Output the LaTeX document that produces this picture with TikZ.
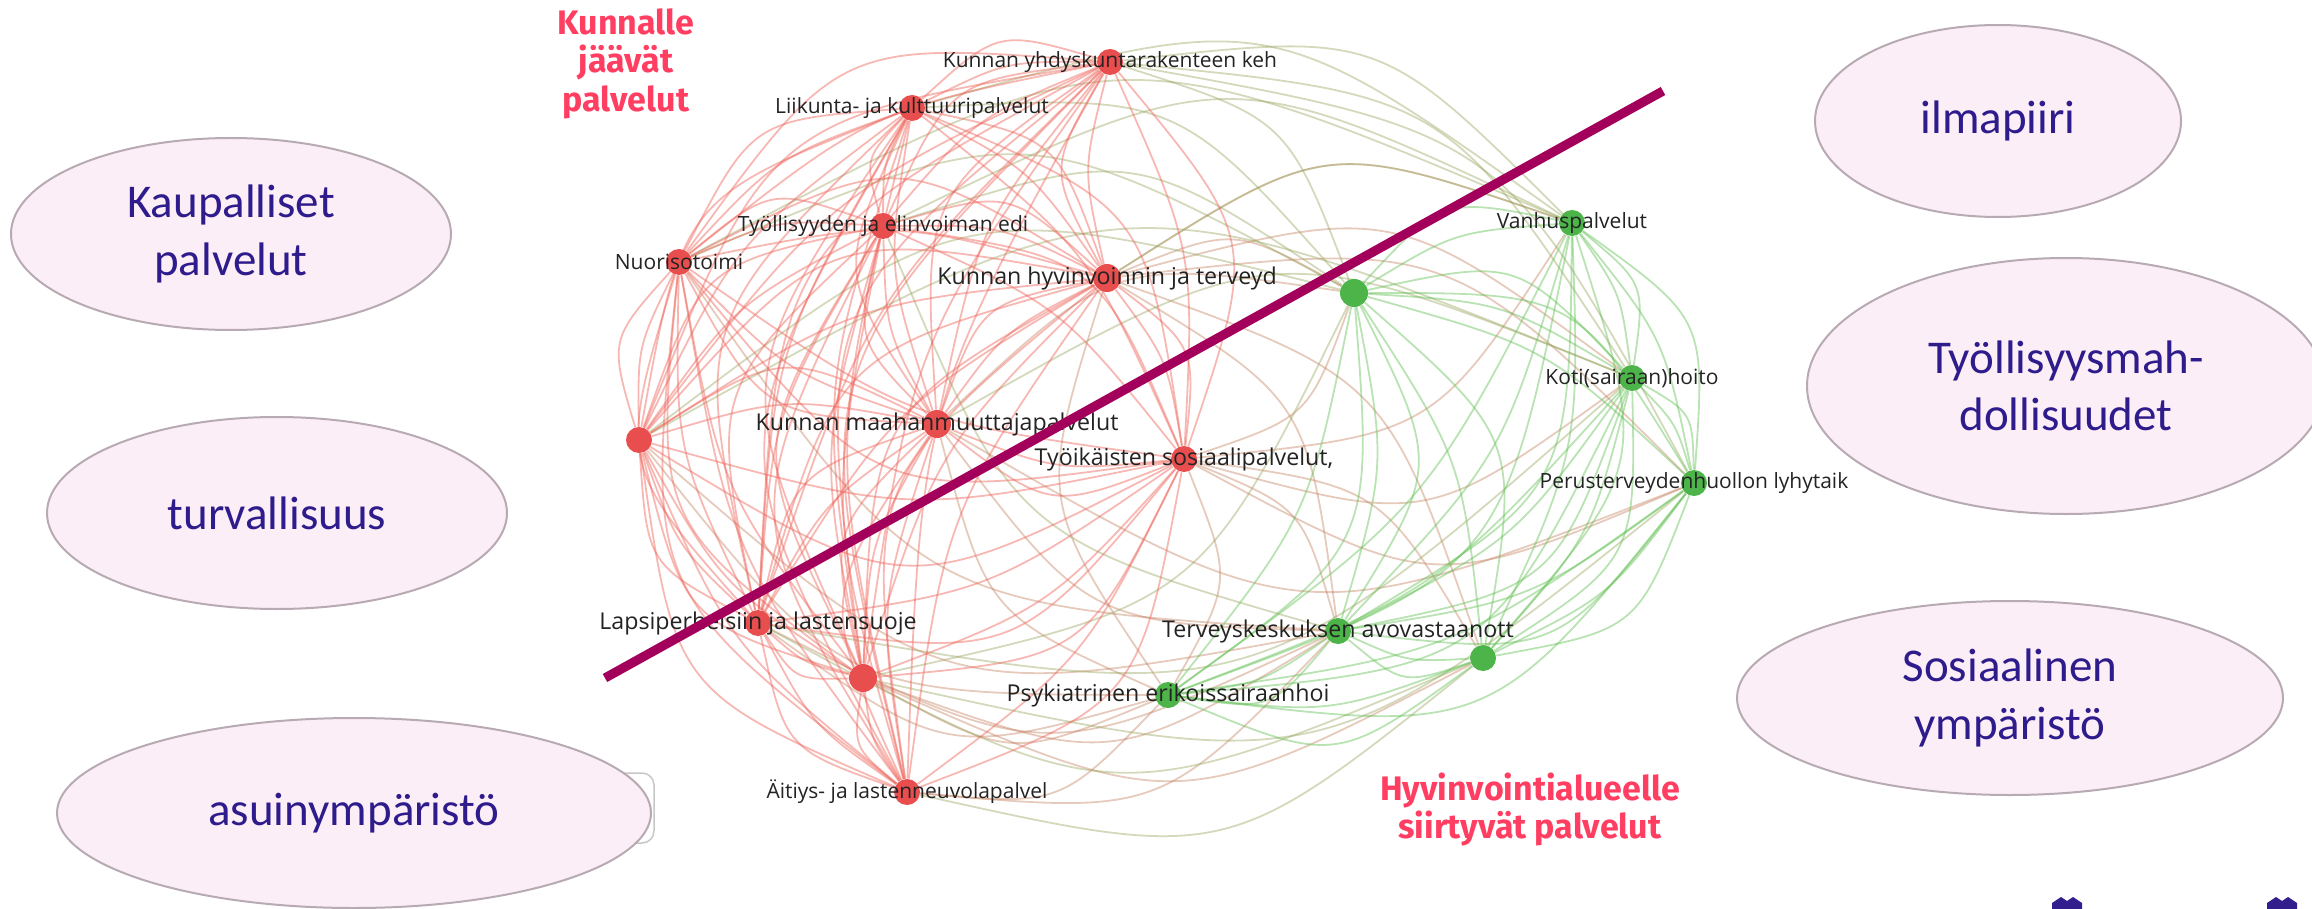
\documentclass[tikz,border=0pt]{standalone}
\usepackage{fontspec}
\setmainfont{Open Sans}
\newfontfamily\calfont{Carlito}
\newfontfamily\firafont{Fira Sans}
\usetikzlibrary{shapes.geometric}
\pgfdeclarelayer{edges}
\pgfsetlayers{edges,main}
\definecolor{ellfill}{RGB}{252,238,246}
\definecolor{elldraw}{RGB}{184,170,178}
\definecolor{elltext}{RGB}{46,27,140}
\definecolor{titlered}{RGB}{255,62,98}
\definecolor{purplebar}{RGB}{163,0,92}
\definecolor{redE}{RGB}{238,98,88}
\definecolor{greenE}{RGB}{100,192,85}
\definecolor{mixR}{RGB}{196,128,96}
\definecolor{mixG}{RGB}{150,165,90}
\definecolor{redN}{RGB}{232,78,78}
\definecolor{greenN}{RGB}{76,180,72}
\definecolor{labeltext}{RGB}{35,35,35}
\definecolor{logoblue}{RGB}{50,30,140}
\newcommand\netedge[4]{%
  \pgfpointanchor{#1}{center}\pgfgetlastxy{\ax}{\ay}%
  \pgfpointanchor{#2}{center}\pgfgetlastxy{\bx}{\by}%
  \pgfmathsetmacro\ddx{(\bx-\ax)/100}%
  \pgfmathsetmacro\ddy{(\by-\ay)/100}%
  \pgfmathsetmacro\mmx{(\ax+\bx)/2}%
  \pgfmathsetmacro\mmy{(\ay+\by)/2}%
  \pgfmathsetmacro\dotp{(\mmx-\cenx)/100*(-\ddy)+(\mmy-\ceny)/100*\ddx}%
  \pgfmathsetmacro\sgn{ifthenelse(\dotp<0,-1,1)}%
  \pgfmathsetmacro\qx{\mmx-\sgn*#4*\ddy*100}%
  \pgfmathsetmacro\qy{\mmy+\sgn*#4*\ddx*100}%
  \draw[#3] (#1) .. controls (\qx pt,\qy pt) .. (#2);%
}
\begin{document}
\begin{tikzpicture}[x=0.5pt,y=-0.5pt,
  bubble/.style={ellipse, draw=elldraw, fill=ellfill, line width=1pt, inner sep=0pt,
    text=elltext, align=center, font=\calfont\fontsize{23.5pt}{28.75pt}\selectfont},
  rnode/.style={circle, fill=redN, inner sep=0pt, minimum size=13pt},
  gnode/.style={circle, fill=greenN, inner sep=0pt, minimum size=13pt},
  lab/.style={inner sep=0pt, text=labeltext, font=\fontsize{10.5pt}{12pt}\selectfont},
  biglab/.style={inner sep=0pt, text=labeltext, font=\fontsize{11.6pt}{13pt}\selectfont},
  ttl/.style={inner sep=0pt, anchor=base, text=titlered, font=\firafont\bfseries\fontsize{17pt}{19pt}\selectfont},
  redEdge/.style={draw=redE, opacity=0.45, line width=0.9pt},
  greenEdge/.style={draw=greenE, opacity=0.45, line width=0.9pt},
  mixEdgeR/.style={draw=mixR, opacity=0.42, line width=0.9pt},
  mixEdgeG/.style={draw=mixG, opacity=0.42, line width=0.9pt}]
\useasboundingbox (0,0) rectangle (2312,909);
\clip (0,0) rectangle (2312,909);

% network nodes
\node[rnode] (yhd) at (1110,62) {};
\node[rnode] (liik) at (912,108) {};
\node[rnode] (tyoll) at (883,226) {};
\node[rnode] (nuor) at (679,262) {};
\node[rnode,minimum size=14pt] (hyv) at (1107,278) {};
\node[rnode] (r6) at (639,440) {};
\node[rnode,minimum size=14pt] (maah) at (937,424) {};
\node[rnode] (tyoik) at (1184,459) {};
\node[rnode] (lapsi) at (758,623) {};
\node[rnode,minimum size=14pt] (r10) at (863,678) {};
\node[rnode] (aitiys) at (907,792) {};
\node[gnode,minimum size=14pt] (g1) at (1354,293) {};
\node[gnode] (vanh) at (1572,223) {};
\node[gnode] (koti) at (1632,378) {};
\node[gnode] (perus) at (1694,483) {};
\node[gnode] (terv) at (1338,631) {};
\node[gnode] (g6) at (1483,658) {};
\node[gnode] (psyk) at (1168,695) {};
\coordinate (netc) at (1150,440);
\pgfpointanchor{netc}{center}\pgfgetlastxy{\cenx}{\ceny}

\begin{pgfonlayer}{edges}
\foreach \a/\b in {hyv/g1,hyv/vanh,hyv/koti,hyv/perus,hyv/terv,hyv/g6,hyv/psyk,
  tyoik/g1,tyoik/vanh,tyoik/koti,tyoik/perus,tyoik/terv,tyoik/g6,tyoik/psyk,
  maah/g1,maah/terv,maah/psyk,maah/perus,r10/terv,r10/psyk,r10/g6,
  lapsi/terv,lapsi/psyk,aitiys/psyk,aitiys/terv,r6/terv,r6/psyk,nuor/terv}
  {\netedge{\a}{\b}{mixEdgeR}{0.24}}
\foreach \a/\b in {g1/yhd,vanh/yhd,koti/yhd,perus/yhd,g1/tyoll,vanh/tyoll,terv/tyoll,
  g1/liik,vanh/liik,g1/nuor,vanh/nuor,g1/r6,koti/r6,g6/aitiys,g6/lapsi,g1/r10,
  koti/maah,vanh/hyv,perus/r10,koti/lapsi}
  {\netedge{\a}{\b}{mixEdgeG}{0.24}}
\foreach \a [count=\i] in {yhd,liik,tyoll,nuor,hyv,r6,maah,tyoik,lapsi,r10,aitiys}{
  \foreach \b [count=\j] in {yhd,liik,tyoll,nuor,hyv,r6,maah,tyoik,lapsi,r10,aitiys}{
    \ifnum\j>\i \netedge{\a}{\b}{redEdge}{0.28}\netedge{\a}{\b}{redEdge}{0.12}\fi}}
\foreach \a [count=\i] in {g1,vanh,koti,perus,terv,g6,psyk}{
  \foreach \b [count=\j] in {g1,vanh,koti,perus,terv,g6,psyk}{
    \ifnum\j>\i \netedge{\a}{\b}{greenEdge}{0.28}\netedge{\a}{\b}{greenEdge}{0.12}\fi}}
\end{pgfonlayer}

% labels
\node[lab] (yhdL) at (yhd) {Kunnan yhdyskuntarakenteen keh};
\node[lab] (liikL) at (liik) {Liikunta- ja kulttuuripalvelut};
\node[lab] (tyollL) at (tyoll) {Työllisyyden ja elinvoiman edi};
\node[lab] (nuorL) at (nuor) {Nuorisotoimi};
\node[biglab] (hyvL) at (hyv) {Kunnan hyvinvoinnin ja terveyd};
\node[biglab] (maahL) at (maah) {Kunnan maahanmuuttajapalvelut};
\node[biglab] (tyoikL) at (tyoik) {Työikäisten sosiaalipalvelut,};
\node[biglab] (lapsiL) at (lapsi) {Lapsiperheisiin ja lastensuoje};
\node[lab] (aitiysL) at (aitiys) {Äitiys- ja lastenneuvolapalvel};
\node[lab] (vanhL) at (vanh) {Vanhuspalvelut};
\node[lab] (kotiL) at (koti) {Koti(sairaan)hoito};
\node[lab] (perusL) at (perus) {Perusterveydenhuollon lyhytaik};
\node[biglab] (tervL) at (terv) {Terveyskeskuksen avovastaanott};
\node[biglab] (psykL) at (psyk) {Psykiatrinen erikoissairaanhoi};

% ellipses
\node[bubble, minimum width=220pt, minimum height=96pt] (kaup) at (231,234) {Kaupalliset\\palvelut};
\node[bubble, minimum width=230pt, minimum height=96pt] (turv) at (277,513) {turvallisuus};
\draw[draw=black!22, line width=0.75pt, rounded corners=6pt, fill=white] (450,773) rectangle (654,843);
\node[bubble, minimum width=297pt, minimum height=95pt] (asuin) at (354,813) {asuinympäristö};
\node[bubble, minimum width=183pt, minimum height=96pt] (ilma) at (1998,121) {ilmapiiri};
\node[bubble, minimum width=259pt, minimum height=128pt] (tyomah) at (2066,386) {Työllisyysmah-\\dollisuudet};
\node[bubble, minimum width=273pt, minimum height=97pt] (sos) at (2010,698) {Sosiaalinen\\ympäristö};

% titles
\node[ttl] (t1a) at (626,35) {Kunnalle};
\node[ttl] (t1b) at (626,73) {jäävät};
\node[ttl] (t1c) at (626,112) {palvelut};
\node[ttl] (t2a) at (1530,800) {Hyvinvointialueelle};
\node[ttl] (t2b) at (1530,838) {siirtyvät palvelut};

% dividing bar
\coordinate (barS) at (605,678);
\coordinate (barE) at (1663,91);
\draw[purplebar, line width=4.6pt] (barS) -- (barE);

% partial logo marks
\foreach \c in {2067,2282}{
  \fill[logoblue] (\c-15,909) -- (\c-15,903) -- (\c-6,897) -- (\c,901) -- (\c+6,897) -- (\c+15,903) -- (\c+15,909) -- cycle;}
\end{tikzpicture}
\end{document}
